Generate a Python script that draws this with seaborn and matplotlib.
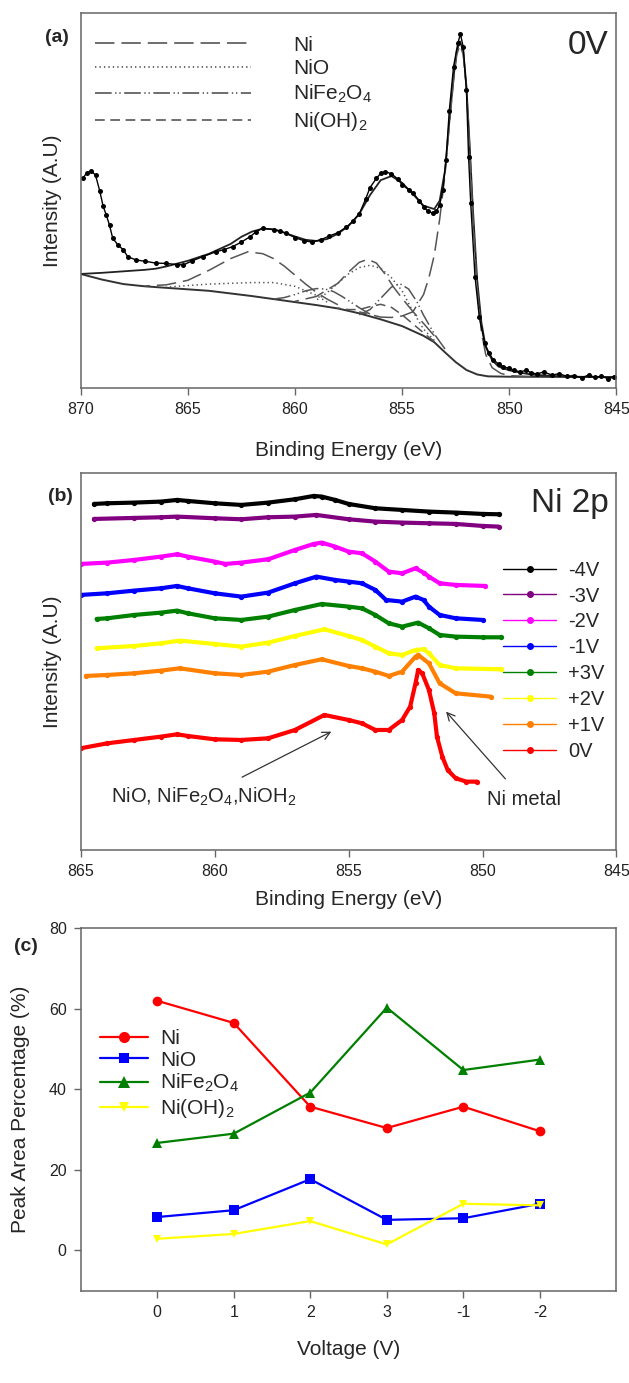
import matplotlib
matplotlib.use("Agg")
import matplotlib.pyplot as plt
import seaborn as sns
import pandas as pd
from matplotlib.lines import Line2D

sns.set_theme(style="ticks")
plt.rcParams['font.family'] = ['Liberation Sans', 'DejaVu Sans']
plt.rcParams['mathtext.fontset'] = 'custom'
plt.rcParams['mathtext.rm'] = 'Liberation Sans'
plt.rcParams['mathtext.it'] = 'Liberation Sans:italic'
plt.rcParams['mathtext.bf'] = 'Liberation Sans:bold'
plt.rcParams['lines.scale_dashes'] = False

# ---------------- Panel (a): Ni 2p fit at 0V ----------------
be_a = [869.9, 869.7, 869.5, 869.3, 869.1, 868.95, 868.8, 868.65, 868.5, 868.25, 868.0, 867.8, 867.4,
        867.0, 866.5, 866.0, 865.5, 865.2, 864.8, 864.3, 863.7, 863.3, 862.9, 862.5, 862.1, 861.8,
        861.5, 861.0, 860.7, 860.4, 860.0, 859.6, 859.2, 858.8, 858.4, 858.0, 857.6, 857.3, 857.0,
        856.7, 856.5, 856.2, 856.0, 855.8, 855.5, 855.2, 855.0, 854.7, 854.5, 854.2, 854.0, 853.8,
        853.55, 853.4, 853.25, 853.1, 852.95, 852.8, 852.6, 852.4, 852.28, 852.15, 852.0, 851.9,
        851.8, 851.6, 851.4, 851.15, 850.95, 850.75, 850.5, 850.3, 850.0, 849.8, 849.5, 849.2, 849.0,
        848.7, 848.4, 848.0, 847.7, 847.3, 847.0, 846.6, 846.3, 846.0, 845.7, 845.4, 845.1]
int_a = [56.0, 57.5, 58.0, 56.8, 52.5, 48.6, 46.2, 43.5, 40.0, 38.2, 36.9, 35.1, 34.2,
         33.9, 33.4, 33.3, 33.0, 32.9, 34.0, 35.1, 36.4, 37.0, 37.8, 39.0, 40.4, 41.8,
         42.7, 42.3, 42.0, 41.3, 40.2, 39.4, 39.0, 39.6, 40.6, 41.5, 43.0, 44.5, 46.5,
         50.5, 53.5, 56.0, 57.3, 57.8, 57.2, 55.8, 54.3, 53.0, 52.2, 50.0, 48.4, 47.2,
         46.7, 47.2, 48.9, 52.9, 60.9, 74.0, 85.8, 92.0, 94.5, 91.0, 79.6, 61.8,
         49.3, 29.8, 19.0, 12.0, 9.5, 7.6, 6.5, 5.8, 5.3, 4.9, 4.4, 4.8, 4.2,
         3.8, 4.4, 3.5, 3.9, 3.2, 3.4, 2.8, 3.6, 2.9, 3.2, 2.6, 3.0]

base_e = [870, 869, 868, 867, 866, 865, 864, 863, 862, 861, 860, 859, 858, 857, 856, 855, 854.5,
          854, 853.5, 853, 852.5, 852, 851.5, 851, 850, 845]
base_v = [30.5, 29.0, 27.8, 27.2, 26.8, 26.4, 26.0, 25.3, 24.6, 23.8, 23.0, 22.2, 21.3, 20.0, 18.4,
          16.6, 15.3, 14.0, 12.3, 9.6, 7.0, 4.9, 3.7, 3.2, 3.1, 3.0]

fit_e = [870, 869, 868, 867, 866.5, 866, 865, 864, 863, 862.5, 862, 861.5, 861, 860.5, 860, 859.5,
         859, 858.5, 858, 857.5, 857, 856.5, 856, 855.5, 855, 854.5, 854, 853.5, 853.25, 853, 852.8,
         852.6, 852.45, 852.3, 852.15, 852, 851.85, 851.7, 851.5, 851.3, 851.1, 850.8, 850.5, 850,
         849.5, 849, 848, 847, 845]
fit_v = [30.5, 30.8, 31.2, 31.6, 31.9, 32.5, 34.0, 35.9, 38.5, 40.4, 41.8, 42.6, 42.4, 41.5, 40.5,
         39.6, 39.3, 39.8, 41.2, 43.3, 46.5, 51.5, 55.5, 56.6, 54.8, 51.8, 48.7, 47.8, 50.0, 58.0,
         71.0, 83.0, 90.0, 92.5, 90.0, 80.5, 65.0, 48.0, 29.0, 17.5, 11.0, 7.5, 5.8, 4.8, 4.2, 3.7,
         3.3, 3.1, 3.0]

ni_main_e = [857.0, 856.0, 855.5, 855.0, 854.5, 854.0, 853.75, 853.5, 853.25, 853.0, 852.8, 852.6,
             852.45, 852.3, 852.15, 852.0, 851.85, 851.7, 851.5, 851.3, 851.1, 850.8, 850.4, 850.0, 849.0]
ni_main_v = [20.4, 19.0, 18.9, 19.3, 20.4, 25.0, 29.5, 35.5, 45.0, 57.0, 70.0, 82.0,
             89.0, 91.5, 89.0, 80.0, 64.0, 46.0, 27.0, 15.0, 9.0, 5.5, 4.0, 3.4, 3.1]
ni_sat1_e = [867, 866, 865, 864, 863, 862.2, 861.5, 861, 860.5, 860, 859.5, 859, 858.5, 858]
ni_sat1_v = [27.3, 27.6, 28.8, 31.5, 34.6, 36.4, 35.9, 34.6, 32.6, 30.2, 27.8, 25.6, 23.8, 22.3]
ni_sat2_e = [860, 859, 858, 857.5, 857, 856.6, 856.2, 855.8, 855.4, 855, 854.5, 854, 853.5]
ni_sat2_v = [23.2, 24.5, 28.0, 31.0, 33.6, 34.4, 33.4, 30.5, 27.0, 24.0, 20.5, 17.3, 14.0]
nio_main_e = [859, 858.5, 858, 857.5, 857, 856.5, 856, 855.5, 855, 854.5, 854, 853.5]
nio_main_v = [23.5, 25.5, 28.0, 30.5, 32.2, 32.8, 32.0, 29.5, 26.0, 20.5, 15.8, 12.8]
nio_sat_e = [866, 865, 864, 863, 862, 861, 860, 859, 858.5]
nio_sat_v = [27.0, 27.4, 27.8, 28.0, 28.2, 28.2, 27.2, 24.8, 23.0]
nfo_a_e = [857, 856.5, 856, 855.5, 855.1, 854.7, 854.3, 854, 853.5, 853]
nfo_a_v = [19.6, 21.0, 24.0, 27.0, 27.9, 26.5, 23.0, 19.5, 14.5, 10.5]
nfo_b_e = [861, 860.5, 860, 859.5, 859, 858.6, 858.2, 857.8, 857.4, 857, 856.5]
nfo_b_v = [23.8, 24.2, 25.0, 26.0, 26.6, 26.5, 25.8, 24.5, 23.0, 21.5, 19.8]
noh_e = [858, 857.5, 857, 856.5, 856, 855.5, 855, 854.5, 854, 853.5]
noh_v = [21.4, 21.0, 21.0, 21.8, 22.4, 21.6, 19.6, 17.2, 14.8, 12.5]

comp_labels_a = ['Ni', 'NiO', 'NiFe$_2$O$_4$', 'Ni(OH)$_2$']

# ---------------- Panel (b): Ni 2p vs voltage ----------------
m4_e = [864.5, 864, 863, 862, 861.4, 861, 860, 859, 858, 857, 856.3, 856, 855.5, 855, 854, 853, 852, 851, 850, 849.4]
m4_v = [103.8, 104.0, 104.2, 104.5, 105.0, 104.7, 104.0, 103.5, 104.2, 105.2, 106.2, 106.0, 105.0, 103.8,
        102.5, 102.0, 101.5, 101.2, 100.8, 100.7]
m3_e = [864.5, 863, 862, 861.4, 860, 859, 858, 857, 856.2, 855, 854, 853, 852, 851, 850, 849.4]
m3_v = [99.3, 99.6, 99.8, 100.0, 99.5, 99.2, 99.8, 100.0, 100.5, 99.2, 98.5, 98.2, 98.0, 97.8, 97.2, 97.0]
m2_e = [865, 864, 863, 862, 861.4, 861, 860, 859.6, 859, 858, 857, 856.3, 856, 855.5, 855, 854.5, 854,
        853.5, 853, 852.5, 852.2, 852, 851.6, 851, 849.9]
m2_v = [85.8, 86.2, 87.0, 88.0, 88.7, 88.0, 86.5, 85.8, 86.2, 87.2, 90.0, 91.8, 92.2, 91.0, 89.5, 89.0,
        86.5, 83.5, 83.0, 84.5, 83.2, 82.0, 80.0, 79.5, 79.2]
m1_e = [865, 864, 863, 862, 861.4, 861, 860, 859, 858, 857, 856.2, 855.5, 855, 854.5, 854, 853.6, 853,
        852.5, 852.2, 852, 851.6, 851, 850]
m1_v = [76.5, 77.0, 77.8, 78.5, 79.2, 78.5, 77.0, 76.0, 77.2, 80.0, 82.0, 81.0, 80.5, 80.0, 78.0, 75.0,
        74.5, 76.0, 75.0, 73.0, 70.5, 69.5, 69.0]
p3_e = [864.4, 864, 863, 862, 861.4, 861, 860, 859, 858, 857, 856, 855, 854.5, 854, 853.5, 853, 852.4,
        852, 851.6, 851, 850, 849.3]
p3_v = [69.3, 69.5, 70.5, 71.2, 71.8, 71.0, 69.5, 69.0, 70.0, 72.0, 73.8, 73.0, 72.5, 70.5, 68.0, 67.0,
        68.2, 66.5, 64.5, 64.0, 63.8, 63.8]
p2_e = [864.4, 863, 862, 861.3, 860, 859, 858, 857, 855.9, 855, 854.5, 854, 853.5, 853, 852.5, 852.2,
        852, 851.6, 851, 849.3]
p2_v = [60.5, 61.2, 62.0, 62.8, 61.8, 61.0, 62.2, 64.2, 66.2, 64.2, 63.0, 61.0, 59.0, 58.5, 60.0, 60.2,
        59.0, 55.5, 54.5, 54.2]
p1_e = [864.8, 864, 863, 862, 861.3, 860, 859, 858, 857, 856, 855, 854.5, 854, 853.5, 853, 852.5, 852.4,
        852, 851.6, 851, 849.7]
p1_v = [52.2, 52.5, 53.0, 53.8, 54.5, 53.0, 52.5, 53.5, 55.5, 57.2, 55.2, 54.5, 53.5, 52.2, 53.5, 58.0,
        58.5, 56.0, 50.0, 47.0, 46.0]
z0_e = [865, 864, 863, 862, 861.4, 861, 860, 859, 858, 857, 855.9, 855, 854.5, 854, 853.5, 853, 852.7,
        852.5, 852.4, 852.25, 852, 851.8, 851.7, 851.5, 851.3, 851, 850.6, 850.2]
z0_v = [30.5, 32.0, 33.0, 34.0, 34.7, 34.2, 33.2, 33.0, 33.5, 36.0, 40.5, 39.0, 38.0, 36.0, 36.0, 39.0,
        43.0, 50.0, 54.0, 53.0, 48.0, 41.0, 34.0, 28.0, 24.0, 21.5, 20.5, 20.5]
volt_labels_b = ['-4V', '-3V', '-2V', '-1V', '+3V', '+2V', '+1V', '0V']
volt_colors_b = ['#000000', '#800080', '#ff00ff', '#0000ff', '#008000', '#ffff00', '#ff8000', '#ff0000']

# ---------------- Panel (c): peak area percentages ----------------
voltages_c = ['0', '1', '2', '3', '-1', '-2']
ni_pct = [62.0, 56.5, 35.7, 30.4, 35.7, 29.6]
nio_pct = [8.3, 10.0, 17.7, 7.6, 8.0, 11.6]
nife2o4_pct = [26.7, 29.0, 39.2, 60.3, 44.8, 47.4]
nioh2_pct = [2.9, 4.1, 7.3, 1.5, 11.6, 11.2]

# ---------------- Figure ----------------
fig = plt.figure(figsize=(6.29, 13.83), dpi=100)
ax_a = fig.add_axes([0.1281, 0.7192, 0.8520, 0.2712])
ax_b = fig.add_axes([0.1281, 0.3854, 0.8520, 0.2724])
ax_c = fig.add_axes([0.1281, 0.0667, 0.8520, 0.2621])

spine_col = '#666666'
for ax in (ax_a, ax_b, ax_c):
    for s in ax.spines.values():
        s.set_visible(True)
        s.set_color(spine_col)
        s.set_linewidth(1.1)
    ax.tick_params(axis='both', direction='out', length=5, width=1, color=spine_col,
                   labelsize=11.5, labelcolor='#222222', pad=5)

ls_ni = (0, (14, 5))
ls_nio = (0, (1, 2.2))
ls_nfo = (0, (12, 2.5, 1, 2, 1, 2.5))
ls_noh = (0, (7, 4))
comp_col = '#555555'

# panel (a)
sns.lineplot(x=base_e, y=base_v, ax=ax_a, color='#333333', lw=1.4, errorbar=None)
sns.lineplot(x=fit_e, y=fit_v, ax=ax_a, color='#222222', lw=1.3, errorbar=None)
comps = [(ni_main_e, ni_main_v, ls_ni), (ni_sat1_e, ni_sat1_v, ls_ni), (ni_sat2_e, ni_sat2_v, ls_ni),
         (nio_main_e, nio_main_v, ls_nio), (nio_sat_e, nio_sat_v, ls_nio),
         (nfo_a_e, nfo_a_v, ls_nfo), (nfo_b_e, nfo_b_v, ls_nfo),
         (noh_e, noh_v, ls_noh)]
for e, v, ls in comps:
    sns.lineplot(x=e, y=v, ax=ax_a, color=comp_col, lw=1.1, linestyle=ls, errorbar=None)
sns.lineplot(x=be_a, y=int_a, ax=ax_a, color='black', lw=1.0, marker='o', markersize=3.6,
             markeredgewidth=0, errorbar=None)
ax_a.set_xlim(870, 845)
ax_a.set_ylim(0, 100)
ax_a.set_xticks([870, 865, 860, 855, 850, 845])
ax_a.set_yticks([])
ax_a.tick_params(top=False, right=False, left=False)
ax_a.set_xlabel('Binding Energy (eV)', fontsize=15)
ax_a.xaxis.set_label_coords(0.5, -0.14)
ax_a.set_ylabel('Intensity (A.U)', fontsize=15)
ax_a.yaxis.set_label_coords(-0.034, 0.5)
handles_a = [Line2D([], [], color=comp_col, lw=1.2, linestyle=ls) for ls in (ls_ni, ls_nio, ls_nfo, ls_noh)]
ax_a.legend(handles=handles_a, labels=comp_labels_a, loc='upper left', bbox_to_anchor=(0.027, 0.94),
            frameon=False, fontsize=15, handlelength=7.5, handletextpad=2.0, labelspacing=0.22,
            borderpad=0, borderaxespad=0)
ax_a.text(0.985, 0.915, '0V', transform=ax_a.transAxes, ha='right', va='center', fontsize=24)

# panel (b)
series_b = [(m4_e, m4_v), (m3_e, m3_v), (m2_e, m2_v), (m1_e, m1_v), (p3_e, p3_v), (p2_e, p2_v),
            (p1_e, p1_v), (z0_e, z0_v)]
for (e, v), lab, col in zip(series_b, volt_labels_b, volt_colors_b):
    sns.lineplot(x=e, y=v, ax=ax_b, color=col, lw=3.0, marker='o', markersize=3.8,
                 markeredgewidth=0, errorbar=None)
ax_b.set_xlim(865, 845)
ax_b.set_ylim(0, 113)
ax_b.set_xticks([865, 860, 855, 850, 845])
ax_b.set_yticks([])
ax_b.tick_params(top=False, right=False, left=False)
ax_b.set_xlabel('Binding Energy (eV)', fontsize=15)
ax_b.xaxis.set_label_coords(0.5, -0.105)
ax_b.set_ylabel('Intensity (A.U)', fontsize=15)
ax_b.yaxis.set_label_coords(-0.034, 0.5)
handles_b = [Line2D([], [], color=c, lw=1.0, marker='o', markersize=4) for c in volt_colors_b]
ax_b.legend(handles=handles_b, labels=volt_labels_b, loc='upper left', bbox_to_anchor=(0.789, 0.768),
            frameon=False, fontsize=14.5, handlelength=2.6, handletextpad=0.6, labelspacing=0.34,
            borderpad=0, borderaxespad=0)
ax_b.text(0.985, 0.92, 'Ni 2p', transform=ax_b.transAxes, ha='right', va='center', fontsize=24)
ax_b.annotate('NiO, NiFe$_2$O$_4$,NiOH$_2$', xy=(855.64, 35.5), xytext=(860.4, 16.0),
              ha='center', va='center', fontsize=14.5,
              arrowprops=dict(arrowstyle='->', color='#333333', lw=0.9, shrinkA=8, shrinkB=0,
                              mutation_scale=14))
ax_b.annotate('Ni metal', xy=(851.36, 41.5), xytext=(848.45, 15.0),
              ha='center', va='center', fontsize=14.5,
              arrowprops=dict(arrowstyle='->', color='#333333', lw=0.9, shrinkA=8, shrinkB=0,
                              mutation_scale=14))

# panel (c)
pos_c = list(range(len(voltages_c)))
series_c = [('Ni', ni_pct, '#ff0000', 'o', 7), ('NiO', nio_pct, '#0000ff', 's', 6.5),
            ('NiFe$_2$O$_4$', nife2o4_pct, '#008000', '^', 7), ('Ni(OH)$_2$', nioh2_pct, '#ffff00', 'v', 6)]
for lab, vals, col, mk, ms in series_c:
    sns.lineplot(x=pos_c, y=vals, ax=ax_c, color=col, lw=1.6, marker=mk, markersize=ms,
                 markeredgewidth=0, errorbar=None, sort=False)
ax_c.set_xlim(-1, 6)
ax_c.set_ylim(-10, 80)
ax_c.set_xticks(pos_c)
ax_c.set_xticklabels(voltages_c)
ax_c.set_yticks([0, 20, 40, 60, 80])
ax_c.tick_params(top=False, right=False)
ax_c.set_xlabel('Voltage (V)', fontsize=15)
ax_c.xaxis.set_label_coords(0.5, -0.135)
ax_c.set_ylabel('Peak Area Percentage (%)', fontsize=15)
ax_c.yaxis.set_label_coords(-0.094, 0.5)
handles_c = [Line2D([], [], color=col, lw=1.6, marker=mk, markersize=ms + 1, markeredgewidth=0)
             for _, _, col, mk, ms in series_c]
ax_c.legend(handles=handles_c, labels=[s[0] for s in series_c], loc='upper left',
            bbox_to_anchor=(0.036, 0.722), frameon=False, fontsize=15, handlelength=2.3,
            handletextpad=0.6, labelspacing=0.12, borderpad=0, borderaxespad=0)

# panel letters
fig.text(0.0912, 0.9732, '(a)', ha='center', va='center', fontsize=14, fontweight='bold')
fig.text(0.0957, 0.6409, '(b)', ha='center', va='center', fontsize=14, fontweight='bold')
fig.text(0.0414, 0.3155, '(c)', ha='center', va='center', fontsize=14, fontweight='bold')

fig.savefig('out.png', dpi=100)
